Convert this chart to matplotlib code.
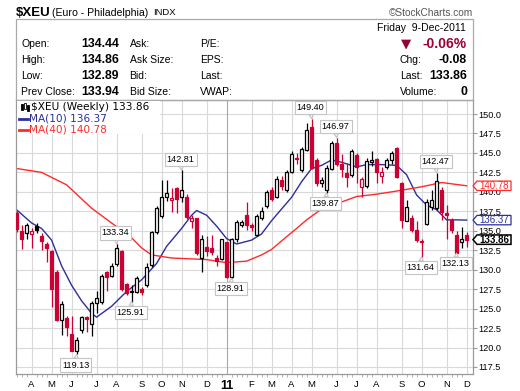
import numpy as np
import pandas as pd
import matplotlib
matplotlib.use('Agg')
import matplotlib.pyplot as plt
from matplotlib.patches import Rectangle, Polygon
from matplotlib.transforms import IdentityTransform

# $XEU weekly candles, 19-Mar-2010 .. 9-Dec-2011
weeks = pd.date_range('2010-03-19', '2011-12-09', freq='W-FRI')

opens = [137.3, 135.0, 134.7, 134.6, 135.6, 134.3, 133.3, 132.4, 129.7, 123.5,
         123.8, 121.7, 119.6, 122.3, 123.95, 123.0, 125.7, 125.8, 129.75, 129.2,
         130.7, 132.4, 128.2, 127.1, 127.1, 127.5, 128.0, 130.6, 134.8, 136.9,
         139.4, 138.95, 140.45, 139.3, 139.3, 136.3, 136.6, 131.45, 132.9, 132.8,
         131.45, 131.35, 133.5, 129.0, 134.0, 135.8, 137.0, 135.7, 134.5, 136.6,
         138.2, 140.2, 139.4, 141.55, 140.2, 142.6, 144.2, 142.8, 145.4, 148.3,
         144.1, 141.2, 140.2, 143.0, 146.3, 143.6, 142.4, 142.2, 144.7, 140.66,
         140.7, 143.8, 144.25, 142.1, 143.2, 144.1, 145.6, 141.2, 136.3, 136.6,
         135.1, 133.5, 135.9, 138.1, 137.9, 140.2, 137.3, 136.4, 134.5, 133.5,
         134.44]
highs = [137.6, 135.7, 136.0, 135.3, 136.0, 134.7, 133.5, 132.5, 129.9, 126.0,
         124.0, 124.0, 121.4, 124.1, 124.0, 126.0, 127.2, 129.5, 129.8, 130.8,
         133.34, 132.5, 128.3, 128.0, 129.2, 127.8, 130.8, 135.0, 138.2, 141.5,
         141.5, 140.45, 140.6, 142.81, 139.7, 137.0, 136.7, 134.5, 134.3, 134.4,
         131.9, 134.0, 133.6, 134.1, 136.4, 136.4, 138.7, 136.0, 137.2, 138.0,
         140.2, 140.6, 142.0, 142.1, 142.75, 145.2, 144.95, 145.8, 148.9, 149.40,
         144.3, 141.9, 143.4, 146.5, 146.97, 144.9, 143.7, 145.5, 144.95, 141.95,
         144.3, 145.2, 144.4, 143.2, 144.3, 145.2, 145.8, 141.3, 139.0, 137.0,
         136.2, 133.9, 139.1, 140.2, 142.47, 140.6, 138.3, 136.6, 135.0, 135.5,
         134.86]
lows = [134.8, 132.7, 133.9, 132.8, 134.7, 132.5, 131.0, 125.2, 123.4, 121.6,
        121.5, 119.5, 119.13, 121.9, 122.0, 121.5, 124.4, 125.6, 127.3, 129.0,
        130.5, 127.3, 126.8, 125.91, 127.0, 126.7, 127.8, 130.4, 134.6, 136.6,
        138.8, 137.45, 137.3, 138.75, 136.5, 135.3, 131.9, 129.75, 131.8, 131.9,
        130.5, 131.2, 128.95, 128.91, 133.6, 135.5, 135.1, 135.0, 134.3, 136.4,
        137.9, 138.8, 139.2, 140.2, 140.0, 142.4, 143.6, 142.6, 145.2, 143.0,
        140.8, 140.6, 139.87, 142.8, 143.3, 141.95, 140.66, 141.95, 141.1, 139.4,
        140.5, 143.3, 141.1, 141.1, 143.0, 143.6, 141.8, 135.3, 136.2, 134.9,
        133.5, 131.64, 135.7, 137.7, 137.7, 136.4, 134.0, 134.7, 132.13, 132.8,
        132.89]
closes = [135.2, 133.9, 135.8, 135.0, 135.1, 133.7, 132.8, 127.5, 123.5, 125.6,
          122.7, 119.6, 121.0, 123.9, 123.7, 125.7, 126.3, 129.2, 129.0, 130.5,
          132.75, 127.5, 127.0, 127.3, 128.9, 127.1, 130.4, 134.8, 137.9, 139.3,
          139.8, 139.25, 139.05, 140.3, 136.8, 136.7, 132.1, 134.0, 132.4, 132.3,
          131.15, 133.9, 129.0, 133.9, 136.1, 136.15, 135.8, 135.5, 136.9, 137.5,
          140.0, 139.1, 141.7, 140.7, 142.5, 144.9, 144.35, 145.5, 148.0, 143.1,
          141.1, 141.5, 143.1, 146.3, 143.6, 143.0, 141.9, 145.2, 143.25, 141.6,
          144.0, 144.1, 142.6, 142.5, 144.1, 144.95, 141.95, 136.4, 138.0, 135.1,
          133.8, 133.75, 138.7, 138.9, 141.4, 137.4, 137.0, 135.1, 132.2, 133.94,
          133.86]

# moving averages (week index, value)
ma10_weeks = [0, 3, 5, 7, 9, 11, 13, 15, 16, 19, 22, 25, 28, 30, 33, 35, 36, 38, 40, 42,
              44, 47, 49, 51, 53, 55, 57, 59, 61, 63, 65, 68, 70, 73, 76, 78, 80, 82,
              84, 86, 88, 90]
ma10_vals = [137.7, 136.0, 135.3, 133.8, 130.5, 128.0, 126.0, 124.4, 123.9, 125.3,
             127.2, 128.7, 130.8, 133.0, 135.3, 137.0, 137.6, 137.0, 135.6, 134.0,
             133.3, 133.8, 134.6, 136.3, 137.8, 139.3, 141.3, 143.0, 143.4, 144.1,
             143.8, 143.2, 143.5, 143.5, 143.4, 142.2, 139.6, 138.3, 137.7, 136.4,
             136.4, 136.37]
ma40_weeks = [0, 5, 10, 15, 19, 23, 25, 27, 31, 38, 42, 46, 49, 51, 53, 56, 58, 61, 65,
              68, 72, 76, 81, 85, 90]
ma40_vals = [143.0, 142.5, 140.9, 137.9, 136.0, 134.1, 132.8, 131.9, 131.5, 131.3,
             130.9, 131.1, 131.9, 132.6, 133.7, 135.3, 136.4, 137.8, 138.7, 139.4,
             139.7, 140.1, 140.65, 141.2, 140.78]

month_ticks = ['2010-04-09', '2010-05-07', '2010-06-04', '2010-07-09', '2010-08-06',
               '2010-09-10', '2010-10-08', '2010-11-05', '2010-12-10', '2011-01-07',
               '2011-02-11', '2011-03-11', '2011-04-08', '2011-05-06', '2011-06-10',
               '2011-07-08', '2011-08-05', '2011-09-09', '2011-10-07', '2011-11-11',
               '2011-12-09']
month_labels = ['A', 'M', 'J', 'J', 'A', 'S', 'O', 'N', 'D', '11', 'F', 'M', 'A', 'M',
                'J', 'J', 'A', 'S', 'O', 'N', 'D']

# weeks that get a high/low value box
peak_labels = [(12, 'low'), (20, 'high'), (23, 'low'), (33, 'high'), (43, 'low'),
               (59, 'high'), (62, 'low'), (64, 'high'), (81, 'low'), (84, 'high'),
               (88, 'low')]

UP = 'black'
DOWN = '#cc0033'
MA10_COL = '#2e2e9a'
MA40_COL = '#ff2a2a'
GRID = '#d9d9d9'

plt.rcParams['font.family'] = ['Liberation Sans', 'DejaVu Sans']

W, H = 520, 391
fig = plt.figure(figsize=(W / 100, H / 100), dpi=100)
fig.patch.set_facecolor('white')


def T(x, y, s, **kw):
    kw.setdefault('va', 'center')
    return fig.text(x / W, 1 - y / H, s, **kw)


ax = fig.add_axes([16 / W, 1 - 374 / H, (473 - 16) / W, (374 - 100) / H])
n = len(weeks)
x = np.arange(n)
ax.set_xlim(-0.12, 91.28)
ax.set_ylim(116.6, 151.8)

# grid
yt = np.arange(117.5, 150.01, 2.5)
ax.set_yticks(yt)
ax.set_yticklabels([f'{v:.1f}' for v in yt])
tick_idx = [weeks.get_loc(pd.Timestamp(d)) for d in month_ticks]
ax.set_xticks(tick_idx)
ax.set_xticklabels(month_labels)
ax.set_xticks(x, minor=True)
for v in yt:
    ax.axhline(v, color=GRID, lw=0.8, zorder=0)
for t, lab in zip(tick_idx, month_labels):
    ax.axvline(t, color='#a8a8a8' if lab == '11' else GRID, lw=0.8, zorder=0)

ax.yaxis.tick_right()
ax.tick_params(axis='y', length=3, pad=1, labelsize=6.6, color='#999999')
ax.tick_params(axis='x', which='major', length=0, pad=4, labelsize=6.8)
ax.tick_params(axis='x', which='minor', length=2, color='#aaaaaa')
for lbl in ax.get_xticklabels():
    if lbl.get_text() == '11':
        lbl.set_fontweight('bold')
        lbl.set_fontsize(9)
for s in ax.spines.values():
    s.set_color('#9a9a9a')
    s.set_linewidth(0.9)

# candles
bw = 0.7
for i in range(n):
    o, h, l, c = opens[i], highs[i], lows[i], closes[i]
    prev = closes[i - 1] if i > 0 else o
    col = UP if c >= prev else DOWN
    ax.vlines(i, l, h, color=col, lw=0.9, zorder=3)
    face = 'white' if c > o else col
    ax.add_patch(Rectangle((i - bw / 2, min(o, c)), bw, max(abs(c - o), 0.07),
                           facecolor=face, edgecolor=col, lw=0.9, zorder=4))

ax.plot(ma10_weeks, ma10_vals, color=MA10_COL, lw=1.0, zorder=2)
ax.plot(ma40_weeks, ma40_vals, color=MA40_COL, lw=1.0, zorder=2)

# high / low boxes
for i, kind in peak_labels:
    val = highs[i] if kind == 'high' else lows[i]
    dy = 10.7 if kind == 'high' else -10.7
    ax.annotate(f'{val:.2f}', xy=(i, val), xytext=(-1, dy), textcoords='offset pixels',
                ha='center', va='center', fontsize=6.6, zorder=6,
                bbox=dict(boxstyle='square,pad=0.22', fc='white', ec='#c4c4c4', lw=0.8),
                arrowprops=dict(arrowstyle='wedge,tail_width=0.45', fc='white',
                                ec='#c4c4c4', lw=0.8, shrinkA=0, shrinkB=0))

# legend
fig.add_artist(Rectangle((17 / W, 1 - 134 / H), 143 / W, 33 / H, transform=fig.transFigure,
                         fc='white', ec='none', zorder=2))
for k, (bx, b0, b1) in enumerate([(20.5, 104, 110), (23.5, 103, 109), (26.5, 105, 111)]):
    fig.add_artist(Rectangle((bx / W, 1 - b1 / H), 2 / W, (b1 - b0) / H,
                             transform=fig.transFigure, fc='black' if k != 1 else 'white',
                             ec='black', lw=0.6, zorder=3))
T(31, 107.5, '$XEU (Weekly) 133.86', family='DejaVu Sans', fontsize=7.6, zorder=3)
fig.add_artist(plt.Line2D([19 / W, 28 / W], [1 - 119 / H] * 2, color=MA10_COL, lw=2, zorder=3))
T(29, 118.8, 'MA(10) 136.37', family='DejaVu Sans', fontsize=7.6, color=MA10_COL, zorder=3)
fig.add_artist(plt.Line2D([19 / W, 28 / W], [1 - 129.5 / H] * 2, color=MA40_COL, lw=2, zorder=3))
T(29, 129.3, 'MA(40) 140.78', family='DejaVu Sans', fontsize=7.6, color=MA40_COL, zorder=3)


# value tags on the right axis (they sit over the tick labels, as in the original)
def value_tag(val, col, bold=False):
    yd = ax.transData.transform((0, val))[1]
    yc = H - yd
    hh = 4.7
    pts = [(473, yc), (477, yc - hh), (511, yc - hh), (511, yc + hh), (477, yc + hh)]
    fig.add_artist(Polygon([(px, H - py) for px, py in pts], closed=True,
                           transform=IdentityTransform(), fc='white', ec=col,
                           lw=1.1 if bold else 0.9, zorder=5))
    T(494, yc, f'{val:.2f}', ha='center', color=col, fontsize=7.0,
      fontweight='bold' if bold else 'normal', zorder=6)


value_tag(140.78, MA40_COL)
value_tag(136.37, MA10_COL)
value_tag(133.86, 'black', bold=True)

# header
T(16, 12.5, '$XEU', fontsize=9.5, fontweight='bold')
T(52.5, 12.5, '(Euro - Philadelphia)', fontsize=7.6)
T(153, 12.5, 'INDX', fontsize=6.8)
T(473, 12.5, '\u00a9StockCharts.com', fontsize=7.3, color='#555555', ha='right')
fig.add_artist(Rectangle((16 / W, 1 - 100 / H), 457 / W, 81 / H, transform=fig.transFigure,
                         fc='none', ec='#aaaaaa', lw=0.9, zorder=1))

T(466, 27.7, 'Friday  9-Dec-2011', fontsize=7.5, ha='right')
rows = [44, 60, 76, 91.7]
left_names = ['Open:', 'High:', 'Low:', 'Prev Close:']
left_vals = ['134.44', '134.86', '132.89', '133.94']
mid_names = ['Ask:', 'Ask Size:', 'Bid:', 'Bid Size:']
mid2_names = ['P/E:', 'EPS:', 'Last:', 'VWAP:']
for y, a, b, c, d in zip(rows, left_names, left_vals, mid_names, mid2_names):
    T(21, y, a, fontsize=7.5)
    T(119, y, b, fontsize=8.8, fontweight='bold', ha='right')
    T(129.5, y, c, fontsize=7.5)
    T(200, y, d, fontsize=7.5)

T(406.5, 43.5, '\u25bc', family='DejaVu Sans', fontsize=9.5, color='#990033', ha='center')
T(467, 43.5, '-0.06%', fontsize=10, fontweight='bold', color='#990033', ha='right')
for y, a, b in zip(rows[1:], ['Chg:', 'Last:', 'Volume:'], ['-0.08', '133.86', '0']):
    T(400, y, a, fontsize=7.5)
    T(467, y, b, fontsize=8.8, fontweight='bold', ha='right')

fig.savefig('out.png', dpi=100, facecolor='white')
